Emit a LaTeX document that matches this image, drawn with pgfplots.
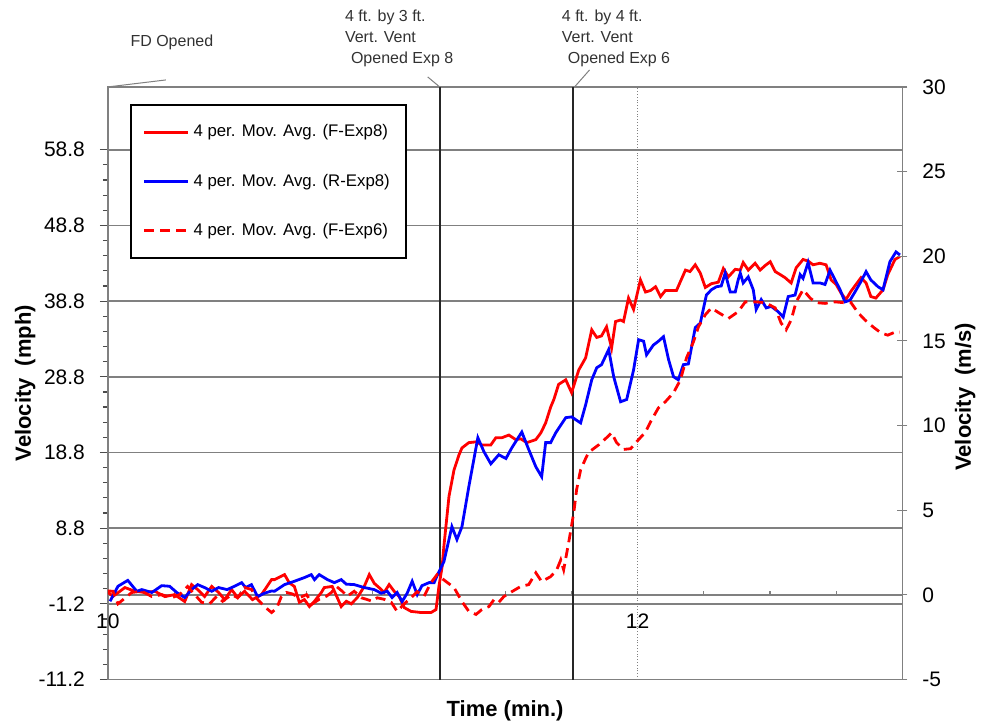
\documentclass[border=0pt]{standalone}
\usepackage{pgfplots}
\usepackage{pgfplotstable}
\pgfplotsset{compat=1.18}
\usepackage{fontspec}
\setmainfont{Liberation Sans}

\definecolor{xlred}{RGB}{255,0,0}
\definecolor{xlblue}{RGB}{0,0,255}
\definecolor{gridgray}{RGB}{128,128,128}
\definecolor{notegray}{RGB}{50,50,50}

% 4 per. mov. avg., velocity in mph against time in min.
\pgfplotstableread{
t v
10.000 0.3
10.020 -0.2
10.064 0.95
10.102 0.46
10.139 0.30
10.177 0.46
10.215 -0.24
10.252 0.02
10.290 -0.90
10.316 1.34
10.339 0.68
10.365 -0.24
10.392 1.10
10.418 0.3
10.441 -0.64
10.467 0.68
10.490 -0.37
10.516 0.46
10.546 -0.64
10.580 0.02
10.618 2.00
10.629 2.00
10.667 2.66
10.685 1.57
10.704 1.10
10.723 -1.00
10.742 -0.64
10.761 -1.56
10.780 -0.86
10.806 0.30
10.817 0.95
10.847 1.10
10.866 -0.37
10.881 -1.56
10.900 -0.86
10.919 -1.2
10.942 -0.37
10.968 1.10
10.987 2.66
11.006 1.5
11.024 0.95
11.043 0.3
11.062 1.34
11.081 0.46
11.100 -0.24
11.119 -1.70
11.145 -2.20
11.183 -2.35
11.220 -2.35
11.239 -1.96
11.250 1.10
11.262 3.7
11.269 6.5
11.288 13.0
11.307 16.5
11.326 18.5
11.337 19.4
11.363 20.1
11.390 20.2
11.412 19.8
11.446 19.8
11.465 20.75
11.488 20.75
11.514 21.1
11.540 20.5
11.559 20.6
11.582 20.1
11.616 20.5
11.635 21.4
11.653 22.7
11.672 24.8
11.684 25.8
11.702 27.8
11.729 28.4
11.751 26.7
11.778 29.7
11.804 31.3
11.827 35.0
11.846 34.0
11.864 34.2
11.883 35.4
11.902 32.6
11.917 36.1
11.936 36.3
11.947 36.1
11.966 39.2
11.985 37.7
12.011 41.6
12.030 40.0
12.049 40.2
12.068 40.7
12.087 39.4
12.105 40.2
12.128 40.2
12.147 40.2
12.181 42.9
12.198 42.7
12.218 43.6
12.237 42.5
12.256 40.6
12.279 41.1
12.305 41.3
12.324 43.1
12.343 42.0
12.369 43.0
12.388 42.9
12.399 43.9
12.418 42.9
12.444 43.8
12.463 42.9
12.482 43.5
12.501 44.0
12.520 42.7
12.539 42.3
12.557 41.9
12.580 41.2
12.599 43.2
12.625 44.3
12.644 44.1
12.663 43.6
12.689 43.8
12.712 43.6
12.731 41.6
12.750 41.0
12.768 39.9
12.787 39.0
12.806 40.1
12.825 41.0
12.844 41.9
12.863 41.2
12.881 39.4
12.900 39.2
12.927 40.3
12.945 42.3
12.972 44.3
12.991 44.7
}\fexpeight

\pgfplotstableread{
t v
10.008 -0.86
10.038 1.12
10.075 1.90
10.109 0.46
10.128 0.68
10.166 0.30
10.203 1.20
10.233 1.12
10.260 0.30
10.290 -0.37
10.316 0.68
10.339 1.34
10.365 0.95
10.392 0.46
10.418 0.95
10.450 0.68
10.478 1.12
10.505 1.60
10.520 0.95
10.542 1.34
10.565 -0.24
10.591 0.2
10.618 0.5
10.629 0.46
10.667 1.34
10.704 1.78
10.742 2.27
10.768 2.66
10.780 2.00
10.798 2.66
10.829 2.00
10.855 1.60
10.881 2.00
10.900 1.4
10.930 1.34
10.968 0.95
11.006 0.68
11.032 0.2
11.055 0.46
11.073 -0.37
11.092 0.3
11.111 -0.90
11.130 0.2
11.149 1.78
11.168 0.02
11.186 1.2
11.213 1.6
11.232 1.6
11.243 2.5
11.269 4.4
11.299 9.0
11.318 7.3
11.337 9.0
11.363 14.3
11.397 20.75
11.420 18.9
11.446 17.3
11.476 18.5
11.503 18.0
11.525 19.4
11.563 21.5
11.589 19.2
11.616 16.9
11.638 15.6
11.653 20.1
11.672 20.1
11.691 21.4
11.729 23.4
11.751 23.5
11.785 22.7
11.804 25.1
11.827 28.4
11.846 30.0
11.864 30.4
11.891 32.4
11.910 28.8
11.936 25.5
11.959 25.8
11.985 29.7
12.004 33.7
12.023 33.5
12.034 31.7
12.060 33.0
12.079 33.5
12.098 34.1
12.117 31.1
12.136 28.8
12.154 28.4
12.173 30.4
12.192 30.5
12.218 35.3
12.237 35.9
12.260 39.6
12.279 40.3
12.298 40.7
12.316 40.8
12.331 42.5
12.350 40.0
12.369 40.0
12.380 41.6
12.388 42.5
12.399 41.2
12.418 42.0
12.437 40.3
12.448 37.7
12.467 39.0
12.486 37.9
12.505 38.1
12.531 37.4
12.550 36.7
12.569 39.4
12.595 39.6
12.614 42.3
12.625 41.8
12.644 43.9
12.663 41.2
12.689 41.2
12.708 41.0
12.727 42.9
12.746 41.6
12.765 40.3
12.783 38.7
12.802 38.9
12.821 40.0
12.844 41.4
12.863 42.7
12.881 41.6
12.908 40.7
12.927 40.3
12.953 44.0
12.976 45.3
12.991 44.9
}\rexpeight

\pgfplotstableread{
t v
10.000 0.5
10.019 0.46
10.038 -1.20
10.090 0.30
10.128 0.46
10.166 -0.24
10.203 0.02
10.241 -0.4
10.271 0.02
10.301 1.10
10.328 0.02
10.354 -1.00
10.384 -1.2
10.411 -0.2
10.433 -0.86
10.467 0.02
10.490 -0.4
10.516 0.95
10.542 0.7
10.565 -0.6
10.591 -1.56
10.618 -2.35
10.637 -1.8
10.655 -0.24
10.674 0.30
10.697 0.1
10.723 -0.4
10.750 0.02
10.772 -1.20
10.798 -0.6
10.825 -0.2
10.844 0.30
10.863 1.10
10.885 0.46
10.904 -0.2
10.930 0.46
10.957 -0.4
10.976 -0.6
10.998 -0.86
11.017 -0.4
11.043 -0.6
11.070 -1.0
11.092 -2.20
11.119 -1.2
11.145 -0.4
11.168 0.40
11.194 -0.2
11.220 1.6
11.243 2.66
11.277 1.74
11.307 0.95
11.337 -0.90
11.363 -2.20
11.390 -2.60
11.412 -1.96
11.439 -1.56
11.458 -0.64
11.476 -1.00
11.495 -0.24
11.525 0.40
11.559 1.10
11.589 1.34
11.616 2.90
11.638 1.74
11.672 2.40
11.695 3.30
11.710 4.60
11.721 3.30
11.740 6.90
11.759 10.8
11.770 13.9
11.785 16.5
11.804 18.0
11.815 18.8
11.853 19.8
11.883 20.75
11.902 21.4
11.921 20.1
11.947 19.2
11.974 19.3
12.004 20.5
12.030 21.5
12.053 23.1
12.079 24.7
12.105 25.5
12.136 26.7
12.162 28.4
12.185 31.3
12.211 33.4
12.230 35.4
12.256 37.0
12.279 37.9
12.305 37.3
12.343 36.5
12.380 37.4
12.407 38.7
12.444 38.7
12.482 38.6
12.520 37.9
12.542 35.9
12.561 35.0
12.580 36.3
12.599 38.7
12.625 40.3
12.652 39.2
12.674 38.6
12.708 38.5
12.746 38.7
12.776 38.6
12.806 38.6
12.832 37.3
12.859 36.3
12.889 35.4
12.919 34.6
12.945 34.3
12.972 34.7
12.991 34.7
}\fexpsix

\begin{document}
\begin{tikzpicture}
\begin{axis}[
  width=397.5pt, height=296.5pt, scale only axis,
  xmin=10, xmax=13, ymin=-11.2, ymax=67.1,
  clip mode=individual,
  axis line style={gridgray, line width=0.8pt},
  xtick={10,12}, xticklabels={},
  major x tick style={draw=none},
  xmajorgrids, x grid style={gridgray, densely dotted, line width=0.6pt},
  ytick={-11.2,-1.2,8.8,18.8,28.8,38.8,48.8,58.8},
  yticklabels={-11.2,-1.2,8.8,18.8,28.8,38.8,48.8,58.8},
  minor y tick num=4,
  ymajorgrids, y grid style={gridgray, line width=0.8pt},
  ytick pos=left, tick align=outside,
  major tick length=4pt, minor tick length=2.5pt,
  tick style={black!70, line width=0.6pt},
  yticklabel style={font=\fontsize{10.5}{12}\selectfont, xshift=-4pt},
  ylabel={Velocity\ \ (mph)},
  ylabel style={at={(axis description cs:-0.104,0.5)}, anchor=center, font=\fontsize{11}{13}\selectfont\bfseries},
  xlabel={Time (min.)},
  xlabel style={at={(axis description cs:0.5,-0.052)}, anchor=center, font=\fontsize{11}{13}\selectfont\bfseries},
  legend style={at={(axis description cs:0.0277,0.9713)}, anchor=north west,
    draw=black, line width=0.9pt, fill=white,
    font=\fontsize{8.4}{10}\selectfont, row sep=13pt,
    inner xsep=6pt, inner ysep=8pt},
  legend cell align=left,
  legend image code/.code={\draw[#1] (0pt,0pt) -- (22pt,0pt);},
]
\coordinate (bl) at (rel axis cs:0,0);
\coordinate (tr) at (rel axis cs:1,1);
% line at 0 with quarter-minute ticks
\draw[gridgray, line width=0.8pt] (axis cs:10,0) -- (axis cs:13,0);
\pgfplotsinvokeforeach{10.25,10.5,10.75,11,11.25,11.5,11.75,12,12.25,12.5,12.75}{
  \draw[gridgray, line width=0.6pt] (axis cs:#1,0) -- ++(0pt,2pt);
}
% event lines
\draw[black!85, line width=1pt] (axis cs:11.253,-11.2) -- (axis cs:11.253,67.1);
\draw[black!85, line width=1pt] (axis cs:11.758,-11.2) -- (axis cs:11.758,67.1);

\addplot[xlred, line width=1.4pt] table[x=t, y=v] {\fexpeight};
\addlegendentry{4 per. Mov. Avg. (F-Exp8)}
\addplot[xlblue, line width=1.4pt] table[x=t, y=v] {\rexpeight};
\addlegendentry{4 per. Mov. Avg. (R-Exp8)}
\addplot[xlred, line width=1.4pt, dash pattern=on 5pt off 3pt] table[x=t, y=v] {\fexpsix};
\addlegendentry{4 per. Mov. Avg. (F-Exp6)}

% x tick labels sit just under the -1.2 line
\node[anchor=north, inner sep=0pt, font=\fontsize{10.5}{12}\selectfont] at ([yshift=-5pt]axis cs:10,-1.2) {10};
\node[anchor=north, inner sep=0pt, font=\fontsize{10.5}{12}\selectfont] at ([yshift=-5pt]axis cs:12,-1.2) {12};

% notes above the plot
\node[inner sep=0pt, text=notegray, font=\fontsize{8}{10}\selectfont] at (rel axis cs:0.0805,1.0759) {FD Opened};
\draw[gridgray, line width=0.5pt] (rel axis cs:0,1) -- (rel axis cs:0.073,1.0118);
\node[anchor=north west, align=left, inner sep=0pt, text=notegray, font=\fontsize{8}{10.5}\selectfont]
  at (rel axis cs:0.298,1.1298) {4 ft. by 3 ft.\\Vert. Vent\\\hspace{3pt}Opened Exp 8};
\draw[gridgray, line width=0.5pt] (rel axis cs:0.4176,1) -- (rel axis cs:0.4025,1.0169);
\node[anchor=north west, align=left, inner sep=0pt, text=notegray, font=\fontsize{8}{10.5}\selectfont]
  at (rel axis cs:0.571,1.1298) {4 ft. by 4 ft.\\Vert. Vent\\\hspace{3pt}Opened Exp 6};
\draw[gridgray, line width=0.5pt] (rel axis cs:0.5874,1) -- (rel axis cs:0.6063,1.0287);
\end{axis}

\begin{axis}[
  width=397.5pt, height=296.5pt, scale only axis,
  xmin=10, xmax=13, ymin=-5, ymax=30,
  axis x line=none, axis y line*=right,
  axis line style={gridgray, line width=0.8pt},
  ytick={-5,0,5,10,15,20,25,30},
  yticklabels={-5,0,5,10,15,20,25,30},
  tick align=center, major tick length=5pt,
  tick style={gridgray, line width=0.6pt},
  yticklabel style={font=\fontsize{10.5}{12}\selectfont, xshift=4pt},
  ylabel={Velocity\ \ (m/s)},
  ylabel style={at={(axis description cs:1.079,0.477)}, anchor=center, font=\fontsize{11}{13}\selectfont\bfseries},
]
\end{axis}

\path ([xshift=-54pt,yshift=-23.5pt]bl) rectangle ([xshift=39.5pt,yshift=43.5pt]tr);
\end{tikzpicture}
\end{document}
